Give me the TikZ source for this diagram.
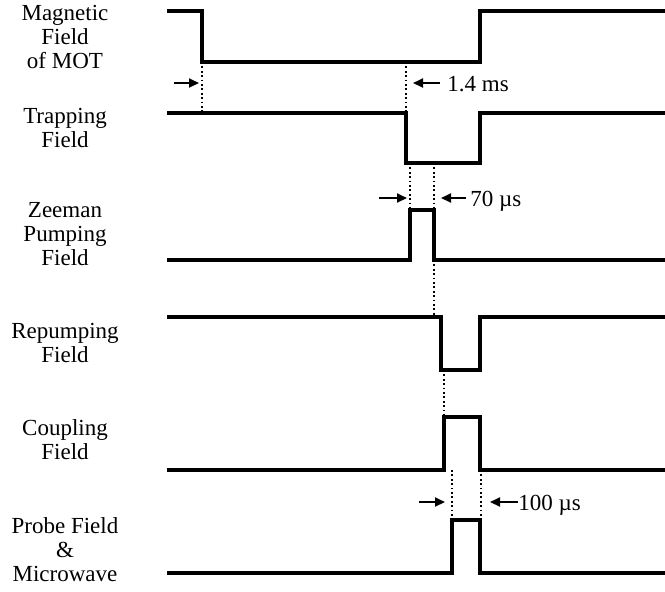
\documentclass[tikz,border=0pt]{standalone}
\usepackage{fontspec}
\setmainfont{Liberation Serif}
\usepackage{tikz}
\usetikzlibrary{arrows.meta}

\tikzset{
  pulse/.style={line width=1.6pt, line join=miter},
  guide/.style={line width=0.9pt, dash pattern=on 0.9pt off 1.3pt},
  timearrow/.style={line width=1pt, -{Triangle[length=5pt, width=4.5pt]}},
  chname/.style={align=center, inner sep=0pt},
  timetext/.style={anchor=base west, inner sep=0pt}
}

\begin{document}
\begin{tikzpicture}[x=0.5pt, y=-0.5pt, font=\fontsize{11.5}{12}\selectfont]

    \useasboundingbox (0,0) rectangle (665,591);

    % ==========================================
    % DEFINE PARAMETERS & COORDINATES
    % ==========================================

    % Start and end of every trace
    \def\xL{167}
    \def\xR{665}

    % Switching times (picture units)
    \def\tMOToff{202}  % MOT field off
    \def\tTrapOff{406} % trapping field off
    \def\tZeeOn{410}   % Zeeman pumping on
    \def\tZeeOff{434}  % Zeeman pumping off
    \def\tRepOff{441}  % repumping off
    \def\tCoupOn{444}  % coupling on
    \def\tProbeOn{452} % probe on
    \def\tBack{480}    % everything back

    % Levels (high, low) of each channel
    \def\hiMOT{11}   \def\loMOT{62}
    \def\hiTrap{113} \def\loTrap{163}
    \def\hiZee{210}  \def\loZee{260}
    \def\hiRep{317}  \def\loRep{370}
    \def\hiCoup{417} \def\loCoup{470}
    \def\hiProbe{520}\def\loProbe{573}

    % Ends of the dotted guide lines
    \coordinate (MOToff)   at (\tMOToff,\loMOT);
    \coordinate (TrapA)    at (\tMOToff,\hiTrap);
    \coordinate (MOTlow)   at (\tTrapOff,\loMOT);
    \coordinate (TrapOff)  at (\tTrapOff,\hiTrap);
    \coordinate (TrapLowA) at (\tZeeOn,\loTrap);
    \coordinate (ZeeOn)    at (\tZeeOn,\hiZee);
    \coordinate (TrapLowB) at (\tZeeOff,\loTrap);
    \coordinate (ZeeTop)   at (\tZeeOff,\hiZee);
    \coordinate (ZeeOff)   at (\tZeeOff,\loZee);
    \coordinate (RepHigh)  at (\tZeeOff,\hiRep);
    \coordinate (RepLow)   at (\tCoupOn,\loRep);
    \coordinate (CoupOn)   at (\tCoupOn,\hiCoup);
    \coordinate (CoupLowA) at (\tProbeOn,\loCoup);
    \coordinate (ProbeOn)  at (\tProbeOn,\hiProbe);
    \coordinate (CoupLowB) at (\tBack+1,\loCoup);
    \coordinate (ProbeTop) at (\tBack+1,\hiProbe);

    % ==========================================
    % CHANNEL NAMES
    % ==========================================

    \node[chname] (nMOT)   at (65,37)  {Magnetic\\Field\\of MOT};
    \node[chname] (nTrap)  at (65,128) {Trapping\\Field};
    \node[chname] (nZee)   at (65,234) {Zeeman\\Pumping\\Field};
    \node[chname] (nRep)   at (65,343) {Repumping\\Field};
    \node[chname] (nCoup)  at (65,440) {Coupling\\Field};
    \node[chname] (nProbe) at (65,550) {Probe Field\\\&\\Microwave};

    % ==========================================
    % DRAW TRACES
    % ==========================================

    \draw[pulse] (\xL,\hiMOT) -| (\tMOToff,\loMOT) -| (\tBack,\hiMOT) -- (\xR,\hiMOT);
    \draw[pulse] (\xL,\hiTrap) -| (\tTrapOff,\loTrap) -| (\tBack,\hiTrap) -- (\xR,\hiTrap);
    \draw[pulse] (\xL,\loZee) -| (\tZeeOn,\hiZee) -| (\tZeeOff,\loZee) -- (\xR,\loZee);
    \draw[pulse] (\xL,\hiRep) -| (\tRepOff,\loRep) -| (\tBack,\hiRep) -- (\xR,\hiRep);
    \draw[pulse] (\xL,\loCoup) -| (\tCoupOn,\hiCoup) -| (\tBack,\loCoup) -- (\xR,\loCoup);
    \draw[pulse] (\xL,\loProbe) -| (\tProbeOn,\hiProbe) -| (\tBack,\loProbe) -- (\xR,\loProbe);

    % ==========================================
    % DOTTED GUIDES
    % ==========================================

    \draw[guide] (MOToff) -- (TrapA);
    \draw[guide] (MOTlow) -- (TrapOff);
    \draw[guide] (TrapLowA) -- (ZeeOn);
    \draw[guide] (TrapLowB) -- (ZeeTop);
    \draw[guide] (ZeeOff) -- (RepHigh);
    \draw[guide] (RepLow) -- (CoupOn);
    \draw[guide] (CoupLowA) -- (ProbeOn);
    \draw[guide] (CoupLowB) -- (ProbeTop);

    % ==========================================
    % DURATION MARKS
    % ==========================================

    % 1.4 ms between MOT off and trapping off
    \node[timetext] (d14) at (447,91) {1.4 ms};
    \coordinate (a14L) at (174,83);
    \coordinate (b14L) at (199,83);
    \coordinate (a14R) at (440,83);
    \coordinate (b14R) at (413,83);
    \draw[timearrow] (a14L) -- (b14L);
    \draw[timearrow] (a14R) -- (b14R);

    % 70 us Zeeman pulse
    \node[timetext] (d70) at (470,206) {70 µs};
    \coordinate (a70L) at (379,198);
    \coordinate (b70L) at (407,198);
    \coordinate (a70R) at (466,198);
    \coordinate (b70R) at (441,198);
    \draw[timearrow] (a70L) -- (b70L);
    \draw[timearrow] (a70R) -- (b70R);

    % 100 us probe pulse
    \node[timetext] (d100) at (518,510) {100 µs};
    \coordinate (a100L) at (419,502);
    \coordinate (b100L) at (445,502);
    \coordinate (a100R) at (518,502);
    \coordinate (b100R) at (490,502);
    \draw[timearrow] (a100L) -- (b100L);
    \draw[timearrow] (a100R) -- (b100R);

\end{tikzpicture}
\end{document}
